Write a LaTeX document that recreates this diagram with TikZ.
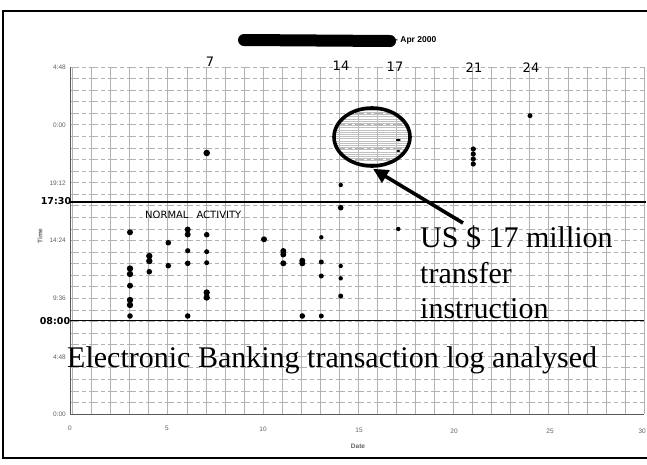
\documentclass[tikz,border=0pt]{standalone}
\usepackage{fontspec}
\setmainfont{Liberation Serif}
\newfontfamily\axisfont{Liberation Sans}
\newfontfamily\handfont{DejaVu Sans}
\usetikzlibrary{shapes.geometric,arrows.meta}
\tikzset{
  vgrid/.style={draw=gray!60, line width=0.6pt},
  hgrid/.style={draw=gray!60, line width=0.7pt, dash pattern=on 9pt off 3pt on 4pt off 3pt},
  frameline/.style={draw=black, line width=2pt},
  levelline/.style={draw=black, line width=1.6pt},
  axislbl/.style={font=\axisfont\fontsize{6.5}{7}\selectfont, text=gray!75!black, inner sep=0pt},
  hand/.style={font=\handfont\fontsize{13}{14}\selectfont, inner sep=0pt},
  handsmall/.style={font=\handfont\bfseries\fontsize{9.5}{10}\selectfont, inner sep=0pt},
  annot/.style={font=\fontsize{30}{32}\selectfont, inner sep=0pt, anchor=base west},
  dot/.style={fill=black},
}
\begin{document}
\begin{tikzpicture}[x=1pt,y=-1pt]
\useasboundingbox (0,0) rectangle (647,464);
% frame
\draw[frameline] (650,11) -- (3,11) -- (3,458) -- (650,458);
% grid
\foreach \d in {0,...,30} \draw[vgrid] ({72.5+19.05*\d},67) -- ({72.5+19.05*\d},414);
\foreach \k in {1,...,30} \draw[hgrid] (70,{414-11.57*\k}) -- (644,{414-11.57*\k});
\draw[draw=gray!70!black, line width=0.8pt] (70,67) -- (70,414) -- (644,414);
% level lines
\draw[levelline] (70,202) -- (646,202);
\draw[levelline] (70,320.5) -- (644,320.5);
% title
\draw[line width=12pt, line cap=round] (244,40) -- (390,41);
\node[font=\axisfont\bfseries\fontsize{8.5}{9}\selectfont, anchor=west, inner sep=0pt] (title) at (395,40) {- Apr 2000};
% y labels
\foreach \t/\yy in {4:48/67, 0:00/125, 19:12/183, 14:24/240, 9:36/298, 4:48/357, 0:00/414}
  \node[axislbl, anchor=east] at (66,\yy) {\t};
% x labels
\foreach \t/\xx/\yy in {0/70/428, 5/167/428, 10/263/429, 15/359/430, 20/454/431, 25/550/431}
  \node[axislbl] at (\xx,\yy) {\t};
\node[axislbl, anchor=east] (x30) at (646,431) {30};
\node[axislbl, font=\axisfont\bfseries\fontsize{6.5}{7}\selectfont] (datel) at (358,446) {Date};
\node[axislbl, font=\axisfont\bfseries\fontsize{6.5}{7}\selectfont, rotate=90] (timel) at (40,236) {Time};
% handwritten
\node[hand] (h7) at (210,62) {7};
\node[hand] (h14) at (341,66) {14};
\node[hand] (h17) at (395,67) {17};
\node[hand] (h21) at (474,68) {21};
\node[hand] (h24) at (531,68) {24};
\node[handsmall] (h1730) at (56,201) {17:30};
\node[handsmall] (h0800) at (55,321) {08:00};
\node[font=\handfont\fontsize{10}{11}\selectfont, inner sep=0pt, anchor=west] (normal) at (145,215) {NORMAL\hspace{8pt}ACTIVITY};
% dots
\foreach \x/\y/\r in {
  130/232.3/3, 130/268.5/3.2, 130/274/3.2, 130/285.7/3, 130/300/3.2, 130/305/3.2, 130/316/2.8,
  149.3/256/3.2, 149.3/261/3.2, 149.3/271.7/2.8,
  168.3/242.7/2.8, 168.3/265.7/2.8,
  187.7/229.5/3, 187.7/234.5/3, 187.7/250.7/2.6, 187.7/263.3/2.8, 187.7/316/2.8,
  206.7/153/3.3, 206.7/234.7/2.8, 206.7/251.7/2.5, 206.7/262.7/2.5, 206.7/292.5/3.2, 206.7/297.5/3.2,
  264/239.3/3,
  283.3/251/3, 283.3/254.5/3, 283.3/263.3/3,
  302.3/260.7/3, 302.3/263.3/3, 302.3/316/2.8,
  321.3/237.3/2.2, 321.3/262/2.5, 321.3/276/2.5, 321.3/316/2.5,
  340.7/185/2.2, 340.7/207.7/2.8, 340.7/266/2.2, 340.7/278.3/2.2, 340.7/296/2.5,
  398.3/140/2.2, 398.3/151/1.8, 398.3/229/2.2,
  473.3/149/2.6, 473.3/154/2.6, 473.3/159/2.6, 473.3/164/2.6,
  530/115.7/2.5}
  \fill[dot] (\x,\y) circle (\r pt);
% highlighted ellipse
\begin{scope}
  \clip (372,137) ellipse [x radius=37, y radius=28];
  \foreach \k in {0,...,26} \draw[gray!50, line width=0.5pt] (330,{110+2.2*\k}) -- (414,{110+2.2*\k});
\end{scope}
\node[ellipse, draw, line width=3.6pt, minimum width=76pt, minimum height=58pt, inner sep=0pt] (circ) at (372,137) {};
% annotations
\node[annot] (us) at (420,247) {US \$ 17 million};
\node[annot] (tr) at (420,283) {transfer};
\node[annot] (ins) at (420,318) {instruction};
\node[annot] (eb) at (67,367) {Electronic Banking transaction log analysed};
% arrow
\coordinate (tail) at (463,223);
\draw[line width=3.6pt, -{Triangle[length=15pt,width=14pt]}] (tail) -- ([xshift=1pt,yshift=-1pt]circ.south);
\end{tikzpicture}
\end{document}
